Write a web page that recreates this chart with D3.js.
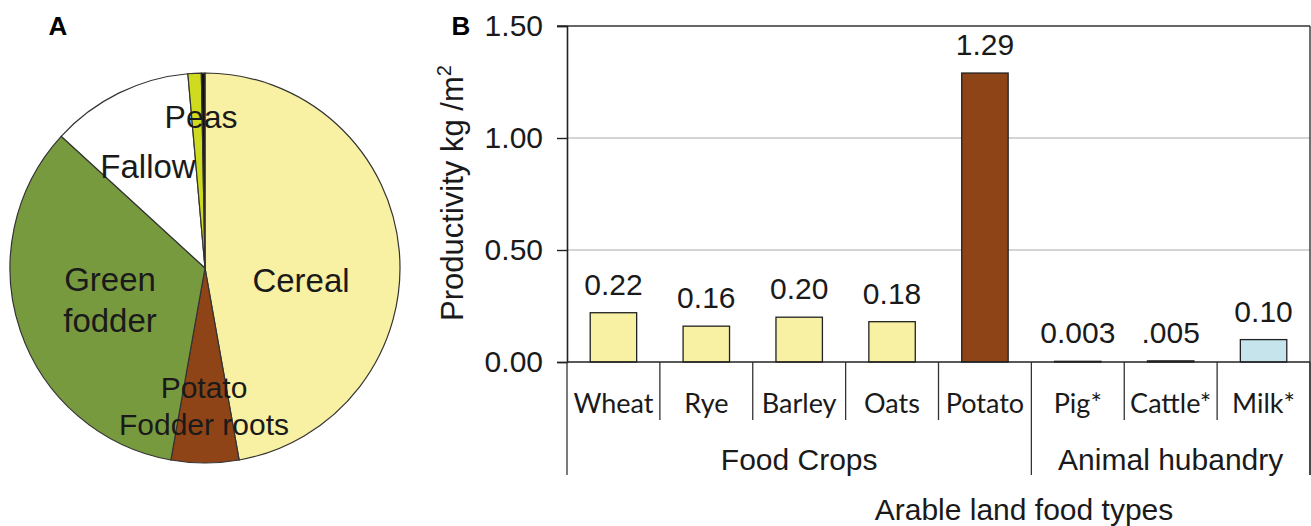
<!DOCTYPE html>
<html>
<head>
<meta charset="utf-8">
<script src="https://cdn.jsdelivr.net/npm/d3@7"></script>
<style>
  body { margin: 0; background: #fff; }
  svg { display: block; font-family: "Liberation Sans", Arial, sans-serif; }
</style>
</head>
<body>
<div id="chart"></div>
<script>
"use strict";

// panel A: land use shares (percent of arable land)
const pieNames = ["Cereal", "Potato Fodder roots", "Green fodder", "Fallow", "Peas", "Other"];
const pieShares = [47.2, 5.6, 34.0, 11.8, 1.1, 0.3];
const pieColors = ["#f8f0a2", "#8e4416", "#789a3f", "#ffffff", "#cfdb1e", "#111111"];

// panel B: productivity kg/m2
const barNames = ["Wheat", "Rye", "Barley", "Oats", "Potato", "Pig*", "Cattle*", "Milk*"];
const barValues = [0.22, 0.16, 0.20, 0.18, 1.29, 0.003, 0.005, 0.10];
const barLabels = ["0.22", "0.16", "0.20", "0.18", "1.29", "0.003", ".005", "0.10"];
const barColors = ["#f8f0a2", "#f8f0a2", "#f8f0a2", "#f8f0a2", "#8e4416", "#222", "#222", "#c6e4ec"];
const groupNames = ["Food Crops", "Animal hubandry"];
const groupSizes = [5, 3];
const yTicks = [0, 0.5, 1.0, 1.5];

const W = 1311, H = 526;
const svg = d3.select("#chart").append("svg")
    .attr("width", W)
    .attr("height", H);

// ---------- panel A ----------
svg.append("text")
    .attr("x", 58).attr("y", 35)
    .attr("text-anchor", "middle")
    .style("font-weight", "bold").style("font-size", "26px")
    .text("A");

const cx = 205, cy = 268, R = 195;
const pieG = svg.append("g").attr("transform", `translate(${cx},${cy})`);

const pie = d3.pie().sort(null).value(d => d.v);
const arc = d3.arc().innerRadius(0).outerRadius(R);
const pieData = pie(pieNames.map((n, i) => ({ name: n, v: pieShares[i], color: pieColors[i] })));

pieG.selectAll("path")
    .data(pieData)
    .enter()
    .append("path")
    .attr("d", arc)
    .style("fill", d => d.data.color)
    .style("stroke", "#333")
    .style("stroke-width", 1.2);

// label placement relative to the pie centre
const pieLabelPos = {
    "Cereal": { dx: 96, dy: 12, lines: ["Cereal"], size: 33 },
    "Potato Fodder roots": { dx: -1, dy: 138, lines: ["Potato", "Fodder roots"], size: 30 },
    "Green fodder": { dx: -95, dy: 32, lines: ["Green", "fodder"], size: 33 },
    "Fallow": { dx: -57, dy: -102, lines: ["Fallow"], size: 33 },
    "Peas": { dx: -4, dy: -151, lines: ["Peas"], size: 32 }
};

pieData.forEach(d => {
    const p = pieLabelPos[d.data.name];
    if (!p) return;
    const lh = p.size * 1.25;
    const t = pieG.append("text")
        .attr("text-anchor", "middle")
        .style("font-size", p.size + "px")
        .style("fill", "#1a1a1a");
    p.lines.forEach((l, i) => {
        t.append("tspan")
            .attr("x", p.dx)
            .attr("y", p.dy + (i - (p.lines.length - 1) / 2) * lh)
            .attr("dy", "0.35em")
            .text(l);
    });
});

// ---------- panel B ----------
const pLeft = 567, pRight = 1310, pTop = 26, pBottom = 362;

svg.append("text")
    .attr("x", 461).attr("y", 35)
    .attr("text-anchor", "middle")
    .style("font-weight", "bold").style("font-size", "26px")
    .text("B");

const x = d3.scaleBand().domain(barNames).range([pLeft, pRight]).padding(0);
const y = d3.scaleLinear().domain([0, 1.5]).range([pBottom, pTop]);

// grid
svg.append("g")
    .selectAll("line")
    .data(yTicks.filter(v => v > 0 && v < 1.5))
    .enter()
    .append("line")
    .attr("x1", pLeft).attr("x2", pRight)
    .attr("y1", d => y(d)).attr("y2", d => y(d))
    .style("stroke", "#aaa").style("stroke-width", 1.2);

// frame: top and right
svg.append("line")
    .attr("x1", pLeft - 10).attr("x2", pRight)
    .attr("y1", y(1.5)).attr("y2", y(1.5))
    .style("stroke", "#333").style("stroke-width", 1.4);
svg.append("line")
    .attr("x1", pRight).attr("x2", pRight)
    .attr("y1", y(1.5)).attr("y2", pBottom + 113)
    .style("stroke", "#333").style("stroke-width", 1.4);

// y axis
const yAxis = d3.axisLeft(y)
    .tickValues(yTicks)
    .tickFormat(d3.format(".2f"))
    .tickSize(10)
    .tickPadding(14);
const yg = svg.append("g")
    .attr("transform", `translate(${pLeft},0)`)
    .call(yAxis);
yg.select(".domain").style("stroke", "#222").style("stroke-width", 1.6);
yg.selectAll(".tick line").style("stroke", "#222").style("stroke-width", 1.4);
yg.selectAll(".tick text")
    .style("font-size", "30px")
    .style("font-family", "'Liberation Sans', Arial, sans-serif")
    .style("fill", "#1a1a1a");

// y title
svg.append("text")
    .attr("transform", "translate(463,193) rotate(-90)")
    .attr("text-anchor", "middle")
    .style("font-size", "31px")
    .style("fill", "#1a1a1a")
    .text("Productivity kg /m")
    .append("tspan")
    .attr("dy", "-0.6em")
    .style("font-size", "20px")
    .text("2");

// bars
const bw = x.bandwidth() * 0.5;
svg.append("g")
    .selectAll("rect")
    .data(barNames)
    .enter()
    .append("rect")
    .attr("x", d => x(d) + (x.bandwidth() - bw) / 2)
    .attr("width", bw)
    .attr("y", (d, i) => y(barValues[i]))
    .attr("height", (d, i) => Math.max(y(0) - y(barValues[i]), 0.5))
    .style("fill", (d, i) => barColors[i])
    .style("stroke", "#222")
    .style("stroke-width", 1.3);

// value labels
svg.append("g")
    .selectAll("text")
    .data(barNames)
    .enter()
    .append("text")
    .attr("x", d => x(d) + x.bandwidth() / 2)
    .attr("y", (d, i) => y(barValues[i]) - 18)
    .attr("text-anchor", "middle")
    .style("font-size", "30px")
    .style("fill", "#1a1a1a")
    .text((d, i) => barLabels[i]);

// x axis line
svg.append("line")
    .attr("x1", pLeft).attr("x2", pRight)
    .attr("y1", pBottom).attr("y2", pBottom)
    .style("stroke", "#222").style("stroke-width", 1.6);

// category separators (short) and group separators (long)
const groupStarts = [];
let acc = 0;
groupSizes.forEach(s => { groupStarts.push(acc); acc += s; });
const bounds = barNames.map(d => x(d)).concat([pRight]);
svg.append("g")
    .selectAll("line")
    .data(bounds)
    .enter()
    .append("line")
    .attr("x1", d => d).attr("x2", d => d)
    .attr("y1", pBottom)
    .attr("y2", (d, i) => (groupStarts.includes(i) || i === barNames.length) ? pBottom + 113 : pBottom + 58)
    .style("stroke", "#333").style("stroke-width", 1.3);

// category names
svg.append("g")
    .selectAll("text")
    .data(barNames)
    .enter()
    .append("text")
    .attr("x", d => x(d) + x.bandwidth() / 2)
    .attr("y", pBottom + 51)
    .attr("text-anchor", "middle")
    .style("font-family", "Lato, 'Open Sans', sans-serif")
    .style("font-size", "27px")
    .style("fill", "#1a1a1a")
    .text(d => d);

// group names
svg.append("g")
    .selectAll("text")
    .data(groupNames)
    .enter()
    .append("text")
    .attr("x", (d, i) => {
        const a = x(barNames[groupStarts[i]]);
        const b = i + 1 < groupNames.length ? x(barNames[groupStarts[i + 1]]) : pRight;
        return (a + b) / 2;
    })
    .attr("y", pBottom + 108)
    .attr("text-anchor", "middle")
    .style("font-size", "30px")
    .style("fill", "#1a1a1a")
    .text(d => d);

// x title
svg.append("text")
    .attr("x", 1024).attr("y", 520)
    .attr("text-anchor", "middle")
    .style("font-size", "30px")
    .style("fill", "#1a1a1a")
    .text("Arable land food types");
</script>
</body>
</html>
